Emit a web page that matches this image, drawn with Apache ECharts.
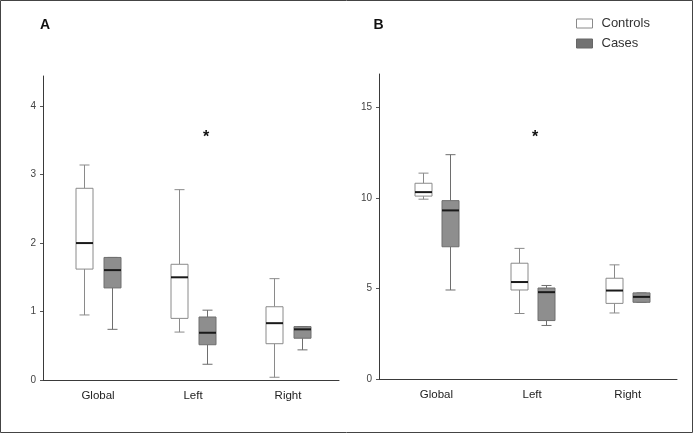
<!DOCTYPE html>
<html>
<head>
<meta charset="utf-8">
<script src="https://cdn.jsdelivr.net/npm/echarts@6/dist/echarts.min.js"></script>
<style>html,body{margin:0;padding:0;background:#fff}#c{width:694px;height:434px}</style>
</head>
<body>
<div id="c"></div>
<script>
// Categories and five-number summaries [min, Q1, median, Q3, max]
const categories = ['Global', 'Left', 'Right'];
const controlsA = [[0.95, 1.62, 2.00, 2.80, 3.14], [0.70, 0.90, 1.50, 1.69, 2.78], [0.04, 0.53, 0.83, 1.07, 1.48]];
const casesA    = [[0.74, 1.345, 1.605, 1.79, 1.79], [0.23, 0.515, 0.69, 0.92, 1.02], [0.44, 0.61, 0.74, 0.78, 0.78]];
const controlsB = [[9.94, 10.11, 10.33, 10.82, 11.38], [3.62, 4.92, 5.36, 6.40, 7.22], [3.65, 4.18, 4.89, 5.57, 6.31]];
const casesB    = [[4.92, 7.31, 9.32, 9.86, 12.40], [2.96, 3.23, 4.80, 5.03, 5.17], [4.24, 4.24, 4.54, 4.76, 4.76]];
const ticksA = [0, 1, 2, 3, 4];
const ticksB = [0, 5, 10, 15];
const seriesNames = ['Controls', 'Cases'];

const FONT = "'Liberation Sans', Arial, sans-serif";
const CTRL_FILL = '#ffffff', CTRL_STROKE = '#8a8a8a';
const CASE_FILL = '#8e8e8e', CASE_STROKE = '#6e6e6e';

function makeRender(offset, fill, stroke) {
  return function (params, api) {
    const c = api.value(0);
    const x = Math.round(api.coord([c, 0])[0] + offset) + 0.5;
    const y = [1, 2, 3, 4, 5].map(i => api.coord([c, api.value(i)])[1]);
    const hw = 8.5, cw = 5;
    const ws = { stroke: stroke, lineWidth: 1 };
    const line = (x1, y1, x2, y2, style) => ({ type: 'line', shape: { x1, y1, x2, y2 }, style });
    return {
      type: 'group',
      children: [
        line(x, y[3], x, y[4], ws),
        line(x, y[1], x, y[0], ws),
        line(x - cw, y[4], x + cw, y[4], ws),
        line(x - cw, y[0], x + cw, y[0], ws),
        { type: 'rect', shape: { x: x - hw, y: y[3], width: 2 * hw, height: y[1] - y[3] }, style: { fill: fill, stroke: stroke, lineWidth: 1 } },
        line(x - hw, y[2], x + hw, y[2], { stroke: '#1a1a1a', lineWidth: 2 })
      ]
    };
  };
}
const toData = arr => arr.map((v, i) => [i].concat(v));

function frameX(gi) {
  return { gridIndex: gi, type: 'value', min: 0, max: 1, axisLine: { show: true, lineStyle: { color: '#3a3a3a', width: 1 } },
    axisTick: { show: false }, axisLabel: { show: false }, splitLine: { show: false } };
}
function frameY(gi, max, ticks) {
  return { gridIndex: gi, type: 'value', min: 0, max: max,
    axisLine: { show: true, lineStyle: { color: '#3a3a3a', width: 1 } },
    axisTick: { show: true, length: 3, customValues: ticks, lineStyle: { color: '#555' } },
    axisLabel: { customValues: ticks, margin: 7, color: '#444', fontSize: 10, fontFamily: FONT },
    splitLine: { show: false } };
}
function dataX(gi) {
  return { gridIndex: gi, type: 'category', data: categories, boundaryGap: true,
    axisLine: { show: false }, axisTick: { show: false },
    axisLabel: { margin: 10, color: '#222', fontSize: 11.5, fontFamily: FONT } };
}
function dataY(gi, max) {
  return { gridIndex: gi, type: 'value', min: 0, max: max, show: false, splitLine: { show: false } };
}
function boxSeries(name, gi, data, offset, fill, stroke) {
  return { type: 'custom', name: name, xAxisIndex: gi, yAxisIndex: gi, data: toData(data),
    encode: { x: 0, y: [1, 2, 3, 4, 5] }, itemStyle: { color: fill, borderColor: stroke },
    renderItem: makeRender(offset, fill, stroke), silent: true };
}

const chart = echarts.init(document.getElementById('c'), null, { renderer: 'canvas' });
chart.setOption({
  animation: false,
  backgroundColor: '#ffffff',
  grid: [
    { left: 43, top: 76, width: 296, height: 304 },
    { left: 50.5, top: 76, width: 285, height: 304 },
    { left: 379, top: 74, width: 298, height: 305 },
    { left: 388.6, top: 74, width: 287, height: 305 }
  ],
  xAxis: [frameX(0), dataX(1), frameX(2), dataX(3)],
  yAxis: [frameY(0, 4.44, ticksA), dataY(1, 4.44), frameY(2, 16.86, ticksB), dataY(3, 16.86)],
  legend: {
    orient: 'vertical', left: 571, top: 12, itemWidth: 16, itemHeight: 9, itemGap: 7,
    textStyle: { fontSize: 13, color: '#333', fontFamily: FONT, padding: [0, 0, 0, 4] },
    data: [
      { name: seriesNames[0], icon: 'rect', itemStyle: { color: CTRL_FILL, borderColor: CTRL_STROKE, borderWidth: 1 } },
      { name: seriesNames[1], icon: 'rect', itemStyle: { color: '#727272', borderColor: '#666', borderWidth: 1 } }
    ]
  },
  graphic: [
    { type: 'rect', shape: { x: 0.5, y: 0.5, width: 692, height: 432 }, style: { fill: null, stroke: '#444', lineWidth: 1 }, silent: true },
    { type: 'text', x: 45, y: 25, style: { text: 'A', font: "bold 14px " + FONT, fill: '#111', align: 'center', verticalAlign: 'middle' } },
    { type: 'text', x: 378.5, y: 25, style: { text: 'B', font: "bold 14px " + FONT, fill: '#111', align: 'center', verticalAlign: 'middle' } },
    { type: 'text', x: 206, y: 138, style: { text: '*', font: "bold 16px " + FONT, fill: '#111', align: 'center', verticalAlign: 'middle' } },
    { type: 'text', x: 535, y: 138, style: { text: '*', font: "bold 16px " + FONT, fill: '#111', align: 'center', verticalAlign: 'middle' } }
  ],
  series: [
    boxSeries(seriesNames[0], 1, controlsA, -14, CTRL_FILL, CTRL_STROKE),
    boxSeries(seriesNames[1], 1, casesA, 14, CASE_FILL, CASE_STROKE),
    boxSeries(seriesNames[0], 3, controlsB, -13.5, CTRL_FILL, CTRL_STROKE),
    boxSeries(seriesNames[1], 3, casesB, 13.5, CASE_FILL, CASE_STROKE)
  ]
});
</script>
</body>
</html>
